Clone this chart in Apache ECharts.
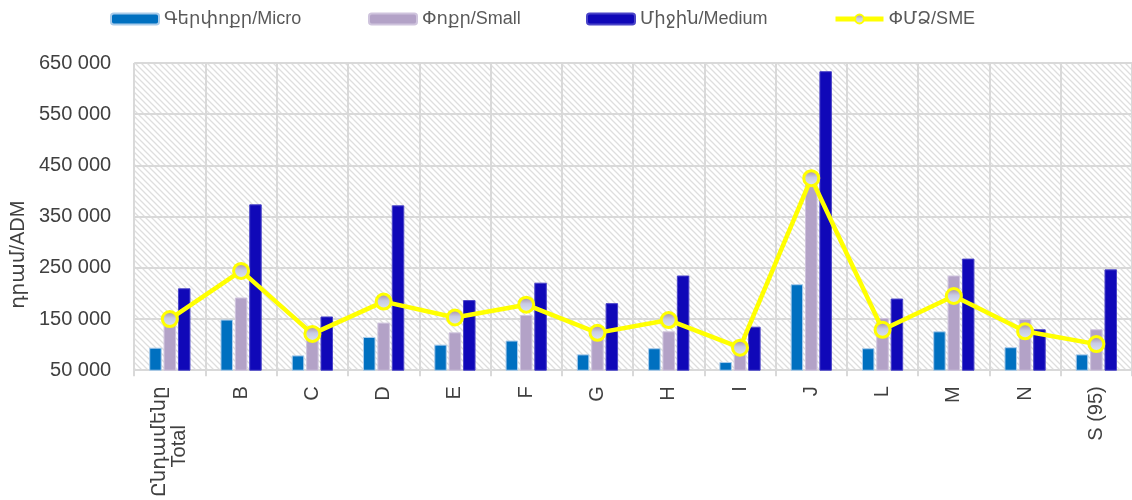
<!DOCTYPE html>
<html>
<head>
<meta charset="utf-8">
<script src="https://cdn.jsdelivr.net/npm/echarts@6/dist/echarts.min.js"></script>
<style>
  html, body { margin: 0; padding: 0; background: #fff; }
  #main { width: 1132px; height: 500px; }
</style>
</head>
<body>
<div id="main"></div>
<script>
// categories (branches) and average values in AMD
var categories = ['Ընդամենը\nTotal       ', 'B', 'C', 'D', 'E', 'F', 'G', 'H', 'I', 'J', 'L', 'M', 'N', 'S (95)'];
var micro  = [94000, 149000, 79000, 115000, 100000, 108000, 81000, 93000, 66000, 218000, 93000, 126000, 95000, 81000];
var small  = [145000, 192000, 115000, 143000, 124000, 158000, 118000, 126000, 85000, 415000, 152000, 235000, 150000, 130000];
var medium = [210000, 374000, 155000, 372000, 187000, 221000, 181000, 235000, 135000, 634000, 190000, 268000, 130000, 247000];
var sme    = [150000, 244000, 121000, 184000, 153000, 178000, 123000, 148000, 94000, 425000, 129000, 195000, 126000, 101000];
var seriesNames = ['Գերփոքր/Micro', 'Փոքր/Small', 'Միջին/Medium', 'ՓՄՁ/SME'];
var legendLeft = [105, 363, 581, 828];

var font = "'Liberation Sans', 'DejaVu Sans', sans-serif";
var textColor = '#404040';
var gridColor = '#D9D9D9';

// diagonal hatch for the plot background
var tile = document.createElement('canvas');
tile.width = 6; tile.height = 6;
var ctx = tile.getContext('2d');
ctx.fillStyle = '#ffffff';
ctx.fillRect(0, 0, 6, 6);
ctx.strokeStyle = '#DEDEDE';
ctx.lineWidth = 1.3;
ctx.beginPath();
ctx.moveTo(-2, -2); ctx.lineTo(8, 8);
ctx.moveTo(-8, -2); ctx.lineTo(2, 8);
ctx.moveTo(4, -2); ctx.lineTo(14, 8);
ctx.stroke();

function fmt(v) {
    return String(v).replace(/\B(?=(\d{3})+(?!\d))/g, ' ');
}

// one legend per series so each sits where it does in the original
var legends = seriesNames.map(function (n, i) {
    return {
        left: legendLeft[i],
        top: 5,
        itemWidth: 48,
        itemHeight: 11,
        textStyle: { fontSize: 18, color: '#595959', fontFamily: font },
        data: [i === 3 ? { name: n, lineStyle: { width: 5 } } : n]
    };
});

var option = {
    backgroundColor: '#fff',
    textStyle: { fontFamily: font },
    legend: legends,
    grid: {
        left: 132,
        right: -3,
        top: 63,
        bottom: 127,
        show: true,
        borderWidth: 0,
        backgroundColor: { image: tile, repeat: 'repeat' }
    },
    xAxis: {
        type: 'category',
        data: categories,
        axisLine: { lineStyle: { color: gridColor, width: 2 } },
        axisTick: { show: true, length: 6, lineStyle: { color: gridColor, width: 2 } },
        splitLine: { show: true, lineStyle: { color: gridColor, width: 2 } },
        axisLabel: {
            rotate: 90,
            margin: 16,
            fontSize: 20,
            color: textColor,
            fontFamily: font,
            interval: 0
        }
    },
    yAxis: {
        type: 'value',
        min: 50000,
        max: 650000,
        interval: 100000,
        name: 'դրամ/ADM',
        nameLocation: 'middle',
        nameGap: 102,
        nameTextStyle: { fontSize: 20, color: textColor, fontFamily: font, padding: [0, 76, 0, 0] },
        axisLine: { show: false },
        axisTick: { show: false },
        splitLine: { lineStyle: { color: gridColor, width: 2 } },
        axisLabel: {
            margin: 23,
            fontSize: 20,
            color: textColor,
            fontFamily: font,
            formatter: fmt
        }
    },
    series: [
        {
            name: seriesNames[0],
            type: 'bar',
            barWidth: 12.5,
            barGap: '15%',
            itemStyle: { color: '#0070C0', borderColor: '#A9CBEA', borderWidth: 1 },
            data: micro
        },
        {
            name: seriesNames[1],
            type: 'bar',
            barWidth: 12.5,
            barGap: '15%',
            itemStyle: { color: '#B3A2C7', borderColor: '#CFC4DD', borderWidth: 1 },
            data: small
        },
        {
            name: seriesNames[2],
            type: 'bar',
            barWidth: 12.5,
            barGap: '15%',
            itemStyle: { color: '#1008B8', borderColor: '#4A44C8', borderWidth: 1 },
            data: medium
        },
        {
            name: seriesNames[3],
            type: 'line',
            z: 5,
            symbol: 'circle',
            symbolSize: 15,
            lineStyle: { color: '#FFFF00', width: 4.5 },
            itemStyle: {
                color: new echarts.graphic.LinearGradient(0, 0, 0, 1, [
                    { offset: 0, color: '#A07F8C' },
                    { offset: 0.45, color: '#C8CBE4' },
                    { offset: 1, color: '#DDE8F6' }
                ]),
                borderColor: '#FFFF00',
                borderWidth: 3
            },
            data: sme
        }
    ]
};

var myChart = echarts.init(document.getElementById('main'));
myChart.setOption(option);
</script>
</body>
</html>
